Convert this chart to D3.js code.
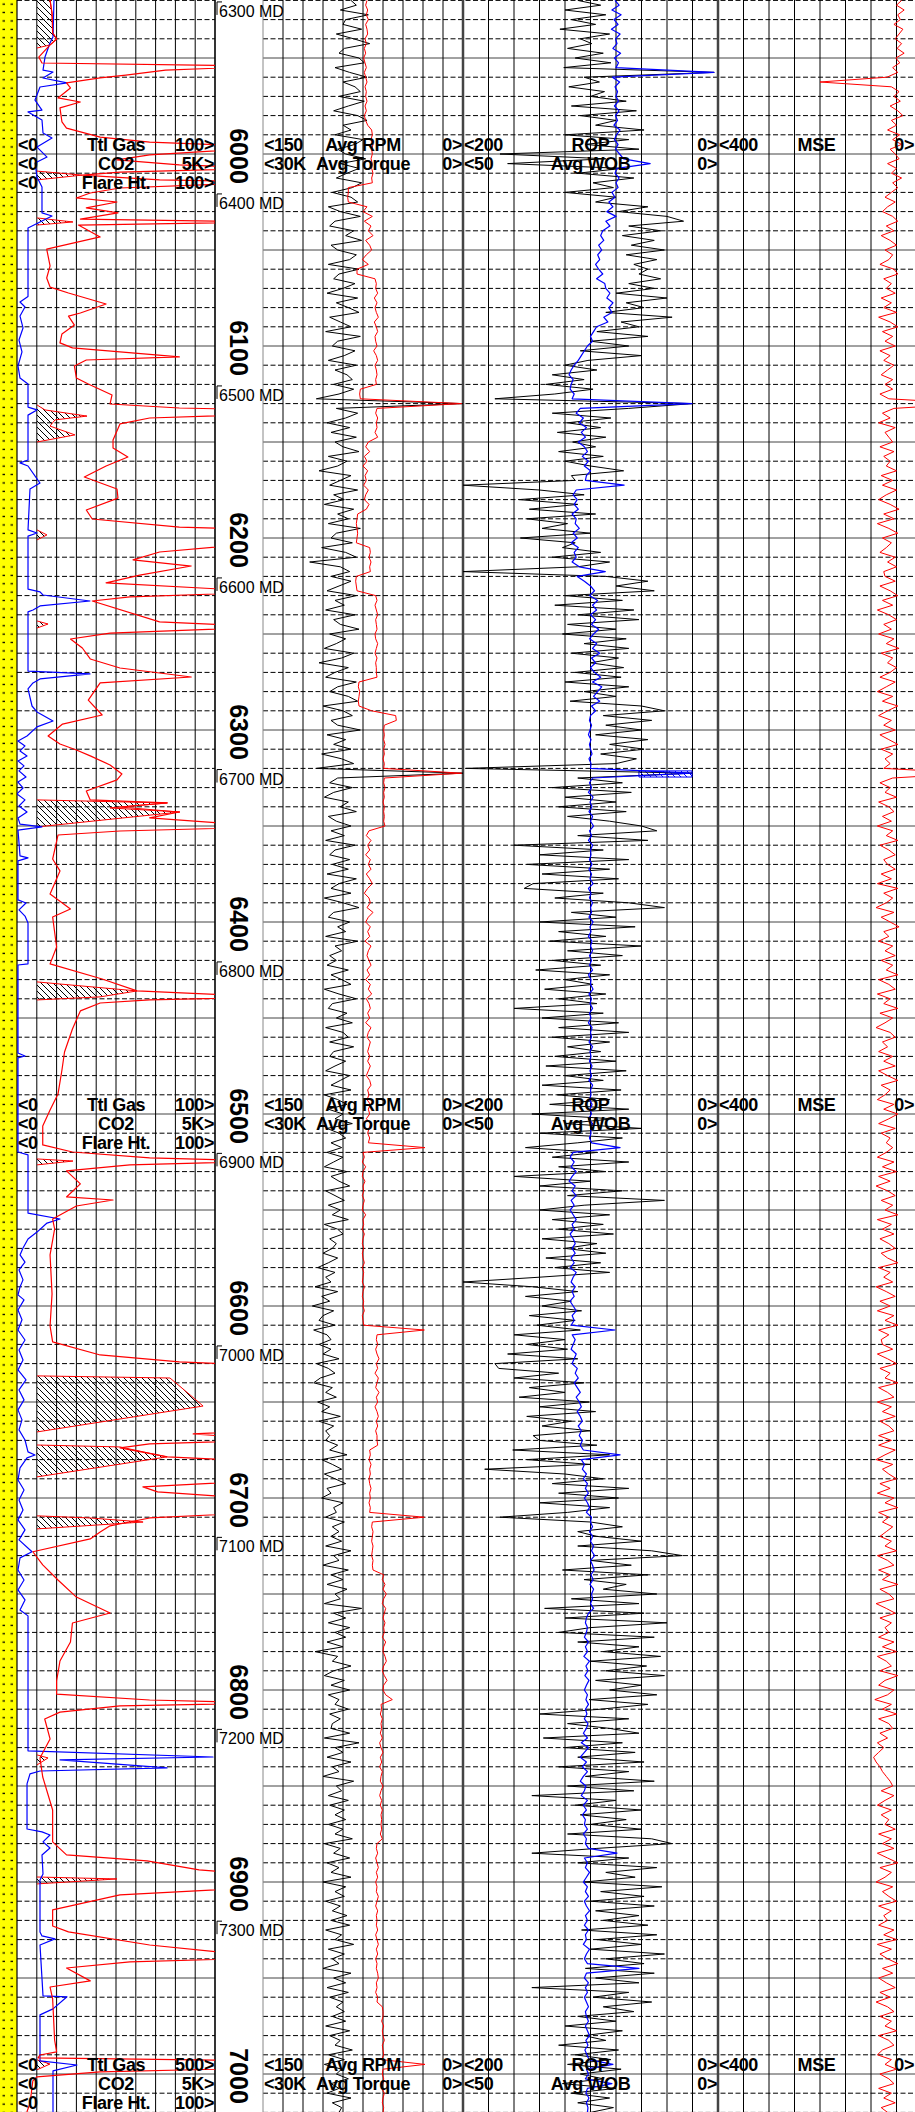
<!DOCTYPE html>
<html>
<head>
<meta charset="utf-8">
<script src="https://cdn.jsdelivr.net/npm/d3@7"></script>
<style>
  html, body { margin: 0; padding: 0; background: #fff; }
  svg { display: block; }
  text { font-family: "Liberation Sans", Arial, sans-serif; }
</style>
</head>
<body>
<div id="chart"></div>
<script>
// Dense drilling curves are sampled every 2.5 ft TVD starting here
const sampleTop = 5920
const sampleStep = 2.5

// Avg RPM (rpm)
const rpm = [
  84,80,92,71,88,90,76,95,82,70,89,93,78,74,96,85,72,90,81,77,
  93,74,86,97,79,72,90,84,96,75,81,94,88,73,92,78,87,95,76,83,
  98,84,79,101,92,77,96,100,82,88,76,99,94,80,85,101,78,93,97,81,
  90,102,79,95,86,78,100,92,84,103,77,94,98,81,89,101,80,96,87,83,
  97,82,93,110,0,95,79,88,102,85,99,80,96,90,78,101,87,94,108,84,
  92,100,79,97,89,104,82,94,86,101,77,95,99,83,106,88,80,115,92,85,
  99,84,93,102,80,96,89,103,81,97,92,78,100,88,95,104,82,91,108,86,
  96,103,80,94,100,86,79,105,90,83,99,94,77,102,88,97,84,106,91,82,
  110,0,94,100,83,97,104,86,92,80,101,95,84,99,89,103,81,96,100,85,
  98,86,102,80,93,99,84,104,90,78,97,101,85,94,88,103,79,96,91,100,
  95,102,86,99,91,84,104,93,80,98,101,87,95,83,103,90,86,100,82,97,
  100,88,96,103,85,92,99,84,104,94,87,101,90,96,83,102,93,88,99,91,
  102,90,97,104,87,99,93,85,103,96,89,101,92,98,86,104,94,90,100,95,
  98,105,94,101,109,96,103,99,111,94,106,100,113,97,105,108,96,112,102,99,
  108,99,105,93,110,101,96,107,112,98,103,95,109,100,106,92,108,97,103,100,
  103,94,100,87,106,98,91,104,96,88,102,99,106,90,97,95,103,89,98,93,
  99,91,103,84,97,93,105,86,99,90,102,87,96,92,104,76,97,88,101,85,
  96,88,102,90,111,94,98,84,97,104,89,99,85,101,93,96,86,100,92,98,
  99,85,104,78,96,90,102,84,98,93,105,82,95,91,101,86,100,89,96,88,
  101,90,96,83,104,92,97,85,102,93,99,84,105,88,96,89,103,92,98,87,
  99,85,103,91,96,82,101,89,98,93,105,84,97,88,102,86,100,90,95,89,
  98,88,103,85,100,92,96,83,101,89,104,91,95,86,99,93,102,84,98,91,
  93
]

// Avg Torque (K ft-lb)
const torque = [
  14.4,14.6,14.3,14.5,14.2,14.6,14.4,14.3,14.7,14.5,14.8,14.6,14.9,14.7,14.5,14.8,14.6,14.4,14.7,14.5,
  14.6,14.4,14.7,14.5,14.8,14.6,14.3,13.7,13.6,13.8,13.5,13.7,13.6,13.8,13.6,13.7,13.5,13.7,13.6,17.2,
  17.2,17.3,17.2,14.4,15.0,13.6,14.8,13.8,14.2,13.5,14.6,14.0,13.7,14.5,15.1,14.2,15.9,15.9,13.2,13.0,
  13.1,12.8,13.3,12.9,13.2,13.0,12.7,13.3,13.0,12.8,13.2,13.1,12.9,13.4,13.0,12.8,13.2,13.0,12.9,13.1,
  13.0,15.4,15.5,15.4,0.2,12.9,13.1,12.8,13.0,12.9,13.2,12.8,14.2,14.6,14.0,14.8,14.4,15.0,14.3,14.7,
  14.5,14.9,14.2,14.6,14.8,14.1,14.5,15.8,15.9,16.0,15.9,15.8,15.9,16.0,14.0,13.9,14.1,13.8,14.0,13.9,
  16.0,16.1,16.0,15.9,13.1,12.9,13.2,13.0,12.8,13.1,13.0,12.9,13.2,13.1,12.8,13.0,13.2,12.9,13.1,13.0,
  13.0,12.9,15.6,15.7,15.5,15.6,15.7,15.6,13.7,10.1,10.0,11.8,11.9,11.8,11.9,11.7,11.9,11.8,12.0,11.8,
  11.9,0.2,11.8,11.9,11.7,11.9,11.8,12.0,11.8,11.9,11.8,11.9,11.7,14.1,14.5,13.8,14.3,14.0,14.6,13.9,
  14.2,13.8,14.5,14.0,13.6,14.3,14.8,14.1,13.9,14.4,13.5,14.2,14.6,13.9,14.3,14.0,14.7,13.8,14.2,14.4,
  14.1,13.8,14.4,14.0,14.6,13.9,14.2,13.7,14.5,14.1,13.9,14.3,14.0,14.6,13.8,14.2,14.4,13.9,14.1,14.3,
  14.0,14.3,13.9,14.2,14.5,14.0,13.8,14.3,14.1,14.4,13.9,14.2,14.0,14.5,13.8,14.1,14.3,14.0,14.2,5.7,
  15.0,14.8,15.1,14.6,15.0,15.1,14.7,15.0,14.9,15.1,14.8,15.0,15.1,14.6,15.0,14.9,15.1,14.8,15.0,15.1,
  14.9,15.1,15.0,14.8,15.1,14.9,15.0,15.1,14.8,15.0,15.1,14.9,15.0,14.8,15.1,15.0,14.9,5.8,12.9,13.0,
  12.8,13.1,12.9,12.6,13.0,12.8,13.2,12.7,12.9,13.1,12.6,13.0,12.8,13.2,12.9,12.7,13.0,12.8,13.1,12.9,
  12.9,12.8,14.0,13.9,14.1,13.8,14.0,13.9,14.1,14.0,13.8,14.0,13.9,14.1,13.9,14.0,5.8,13.6,13.7,13.5,
  13.6,13.7,13.5,13.6,13.7,13.5,13.6,13.5,11.9,12.1,11.7,12.0,11.5,11.9,12.1,11.6,11.8,12.0,11.7,11.9,
  11.8,12.1,11.6,11.9,12.0,11.7,11.5,11.9,12.1,11.8,11.4,11.9,12.0,11.6,10.6,12.3,12.2,12.4,12.1,12.3,
  12.2,12.4,12.1,12.5,12.3,12.0,12.4,12.2,12.5,12.1,12.3,12.4,12.0,12.3,12.5,12.2,12.4,12.1,12.3,12.2,
  12.3,12.2,12.4,12.1,12.9,13.0,12.8,13.1,12.9,12.7,13.0,12.8,13.1,12.9,13.0,12.7,12.9,13.1,12.8,13.0,
  12.9,13.0,12.8,13.1,12.9,12.7,13.0,12.8,13.1,12.9,13.0,12.8,12.7,13.0,12.9,13.1,12.8,12.9,12.1,12.0,
  12.0,12.2,11.9,12.1,12.0,11.8,12.1,12.0,11.9,12.2,5.7,12.0,12.1,11.9,12.0,12.2,11.8,12.0,12.1,11.9,
  12.0
]

// ROP (ft/hr)
const rop = [
  110,92,120,88,115,96,124,85,108,99,118,90,112,84,121,3,105,93,117,89,
  100,72,115,64,108,80,96,58,120,70,104,62,171,88,165,75,110,66,98,82,
  120,80,96,55,78,40,27,70,45,75,50,68,42,72,48,66,55,62,45,70,
  50,80,40,72,58,88,36,76,62,95,55,100,70,108,60,102,120,95,130,105,
  135,98,128,175,20,70,130,84,118,92,126,88,114,96,125,90,120,100,74,115,
  112,200,140,105,156,110,148,96,150,118,138,100,155,112,122,92,130,85,110,200,
  88,55,80,50,120,75,128,66,110,62,118,80,122,72,105,70,115,78,100,74,
  112,76,120,70,105,80,116,60,42,90,52,88,60,96,55,85,58,92,64,80,
  198,20,110,75,130,68,120,80,125,72,118,85,60,48,110,55,160,90,140,70,
  150,85,138,78,145,152,90,128,70,42,115,80,140,65,125,88,132,60,118,75,
  130,92,143,85,120,98,136,88,125,95,160,90,138,78,125,70,130,85,118,92,
  128,80,135,72,120,90,138,76,126,85,132,70,146,82,120,60,140,75,110,151,
  95,130,70,125,88,160,100,140,75,118,42,105,140,85,130,90,125,82,138,95,
  120,88,135,92,128,85,140,200,145,110,151,115,138,107,148,112,142,108,160,120,
  150,118,165,110,175,172,125,160,105,148,120,156,101,140,96,150,115,138,100,145,
  140,95,161,85,150,100,183,120,90,130,70,125,78,140,85,118,171,100,75,110,
  95,60,110,52,28,100,68,122,55,105,72,90,48,115,62,136,58,120,40,100,
  125,50,110,62,90,45,100,56,88,42,96,60,85,48,101,55,92,140,70,118,
  85,62,137,75,120,65,110,58,125,70,104,50,118,66,146,80,112,60,108,72,
  100,60,118,52,36,95,146,70,110,48,88,65,105,44,92,58,100,50,96,62,
  90,55,107,48,95,60,100,42,88,58,104,50,96,62,146,70,98,52,90,66,
  110,80,120,75,105,88,125,78,112,84,118,76,108,90,122,80,115,85,110,82,
  100
]

// Avg WOB (K lb)
const wob = [
  20.2,19.4,20.8,19.0,20.4,19.6,20.9,19.2,20.1,19.8,20.6,19.1,20.3,19.5,20.0,0.8,20.7,19.3,20.2,19.7,
  20.0,19.5,20.3,19.4,20.1,19.7,20.4,19.2,19.9,20.3,19.6,20.1,19.3,18.5,13.3,19.8,20.2,19.4,20.0,19.6,
  20.8,20.2,21.4,20.6,21.8,20.0,22.0,21.2,22.6,23.0,22.4,23.4,22.8,23.6,23.2,24.0,23.4,22.6,23.8,22.2,
  22.0,21.2,21.8,20.6,21.4,20.8,22.4,21.6,23.8,24.4,25.0,24.6,25.6,26.2,26.8,27.4,28.2,28.8,29.2,28.4,
  28.8,29.0,28.2,28.6,5.1,27.0,27.8,26.4,27.2,25.8,26.8,26.0,27.4,26.2,25.6,26.6,25.4,26.2,25.0,25.8,
  26.0,18.4,27.8,28.4,27.6,28.2,27.4,28.6,27.8,28.0,27.2,28.4,27.6,28.8,27.4,28.2,27.8,28.6,27.2,22.1,
  27.6,26.2,25.0,24.2,25.2,23.6,24.6,23.8,25.0,24.0,24.8,23.4,24.4,25.2,23.8,24.6,23.2,24.8,24.0,25.0,
  24.2,23.0,24.6,22.8,23.6,24.4,23.2,24.8,24.0,25.0,25.2,24.8,25.1,25.4,24.9,25.2,25.0,24.7,25.3,24.9,
  25.0,5.1,24.6,25.2,24.8,25.4,24.5,25.1,24.7,25.3,24.6,25.0,24.4,25.2,24.8,25.4,24.6,25.0,24.9,25.2,
  24.7,25.3,24.8,25.1,24.5,25.4,24.9,25.2,24.6,25.0,24.8,25.3,24.5,25.1,24.9,25.4,24.7,25.0,24.6,25.2,
  24.8,25.2,24.6,25.4,24.9,25.0,24.5,25.3,24.8,25.1,24.6,25.2,24.9,25.4,24.7,25.0,24.8,25.3,24.6,25.1,
  24.9,25.2,24.7,25.1,24.8,25.3,24.6,25.0,24.9,25.2,24.7,25.1,24.8,25.4,24.6,25.0,24.9,25.2,24.8,19.2,
  28.4,29.0,28.2,28.8,27.8,28.6,29.2,28.0,28.6,27.8,28.8,28.2,29.0,28.4,27.8,28.6,28.2,29.0,28.4,28.0,
  28.6,28.0,28.8,28.2,29.0,27.8,28.4,28.8,28.0,28.6,28.2,29.0,28.4,27.8,28.6,28.2,28.8,20.2,28.6,28.0,
  28.4,28.8,27.8,28.2,28.6,27.6,28.0,27.4,28.2,27.6,27.0,27.8,27.2,26.8,27.6,27.0,26.6,27.4,26.8,27.2,
  26.6,27.0,26.4,19.2,26.8,26.2,26.6,25.8,26.4,25.6,26.0,25.4,26.2,25.6,25.2,25.8,24.8,25.0,24.6,25.2,
  24.6,25.0,24.4,24.8,24.2,25.0,24.6,24.3,24.9,24.5,25.1,24.4,24.8,24.6,25.0,24.4,25.4,25.8,26.0,25.6,
  25.8,26.2,25.4,26.0,25.6,26.3,25.2,25.9,25.5,26.1,25.3,25.8,26.2,25.6,25.9,25.4,26.0,25.7,26.2,25.5,
  25.8,26.4,25.6,26.8,25.4,26.2,27.0,25.8,26.6,25.6,26.4,27.0,25.9,26.2,26.8,25.6,26.4,25.8,26.6,26.0,
  26.2,25.6,26.4,25.8,26.0,25.4,19.8,26.2,25.6,26.0,25.2,25.8,26.4,25.6,26.0,25.4,26.2,25.8,25.2,26.0,
  25.6,26.2,25.4,26.0,25.8,26.4,25.2,25.8,26.2,25.6,15.5,25.8,26.2,25.4,26.0,25.6,26.2,25.8,25.4,26.0,
  25.8,25.4,26.0,25.6,25.2,25.9,25.5,26.1,25.7,25.3,20.6,25.8,25.4,26.0,20.8,25.6,25.9,25.3,25.8,25.5,
  25.6
]

// MSE (ksi)
const mse = [
  112,120,108,118,114,124,110,116,122,112,119,108,121,115,126,118,135,240,128,116,
  124,114,130,118,110,128,120,134,115,126,112,130,122,116,134,120,128,112,126,118,
  128,138,122,134,142,126,118,136,124,144,130,120,138,126,132,146,124,118,140,128,
  136,122,144,128,140,120,148,130,118,142,126,138,122,146,130,140,124,134,144,126,
  138,126,146,132,0,124,142,130,148,122,138,132,126,146,124,140,130,136,120,144,
  126,142,120,136,148,130,116,140,124,150,132,118,142,128,136,146,122,134,120,140,
  138,122,146,130,118,142,126,150,132,120,140,128,148,124,136,116,144,126,134,120,
  130,146,122,136,150,126,142,118,134,148,128,140,122,146,132,118,144,126,138,130,
  140,0,126,146,130,138,120,148,132,124,142,128,150,126,136,118,146,132,122,140,
  134,122,144,128,150,118,140,126,136,152,124,144,130,116,140,132,148,126,138,122,
  144,126,136,118,148,132,122,150,130,140,118,146,126,138,152,130,122,142,134,148,
  126,140,122,148,134,118,144,130,138,150,124,140,118,132,148,122,144,130,136,126,
  136,150,124,142,120,148,130,152,134,122,144,126,138,118,150,128,142,124,146,132,
  122,144,134,118,148,130,140,126,152,136,122,146,130,150,124,138,118,148,132,144,
  142,126,150,134,120,146,130,138,118,148,134,124,150,128,142,122,146,132,124,148,
  128,148,122,138,152,126,142,132,120,146,130,150,124,138,118,148,132,142,126,136,
  146,128,138,120,150,134,124,148,130,142,118,146,132,124,152,136,122,146,128,138,
  132,148,124,142,120,150,136,128,146,118,138,148,124,134,154,128,142,120,148,132,
  126,146,134,150,140,148,156,152,146,142,136,130,126,144,124,138,150,128,144,132,
  138,122,148,128,142,124,150,134,118,146,128,138,152,126,142,132,120,148,128,140,
  134,148,124,140,120,150,128,146,134,118,142,126,148,136,122,146,130,152,134,124,
  146,128,138,120,148,132,124,142,150,128,138,120,146,132,124,148,128,140,122,144,
  134
]

// Total gas (units) as [TVD, value]
const totalGas = [
  [5919.8,16.7],[5926.6,17.7],[5937.0,18],[5940.1,20],[5943.2,16.7],[5949.5,11],[5952.6,12.6],[5954.2,130],
  [5956.3,75],[5958.9,55],[5960.4,42],[5963.0,25],[5965.6,27],[5970.8,20.7],[5972.9,32],[5976.0,21.7],
  [5983.3,22.7],[5986.5,25],[5991.2,42],[5993.8,67],[5996.4,130],[6000.5,67],[6003.1,50.5],[6005.7,82],
  [6007.3,130],[6009.4,52],[6011.0,33],[6013.5,72],[6014.6,130],[6017.7,52],[6020.3,37],[6022.9,30],
  [6025.0,50.5],[6028.1,35],[6030.7,51],[6033.9,32],[6035.4,130],[6037.0,31],[6043.2,42],[6049.5,15],
  [6058.3,16.7],[6064.6,15],[6069.3,16.7],[6072.4,26],[6078.1,45],[6082.8,32],[6084.4,26],[6089.1,29],
  [6093.7,22.7],[6098.4,21.7],[6101.0,28],[6105.7,82],[6107.3,35],[6110.4,29],[6116.7,30],[6119.8,36],
  [6125.5,48],[6130.2,47],[6132.3,82],[6133.3,130],[6135.4,130],[6137.5,67],[6140.6,52],[6149.0,48.5],
  [6153.1,48.5],[6157.8,56],[6162.5,45],[6168.2,34],[6174.5,50.5],[6179.2,51],[6185.4,35],[6190.1,38],
  [6194.3,82],[6195.8,130],[6202.1,130],[6207.3,72],[6211.4,58.6],[6214.6,88],[6219.3,62],[6223.4,45],
  [6228.1,130],[6230.7,57],[6232.8,38],[6243.7,72],[6246.3,130],[6249.5,47],[6252.6,27],[6257.3,33],
  [6263.0,37],[6267.7,52],[6272.4,88],[6275.5,42],[6284.4,36],[6292.2,43],[6296.9,23],[6303.1,15.7],
  [6307.3,21.7],[6310.4,30],[6313.5,37],[6318.2,47],[6322.9,53],[6326.0,50.5],[6331.8,35],[6336.4,37],
  [6338.0,76],[6340.1,52],[6342.7,82],[6345.8,67],[6350.5,130],[6352.6,52],[6354.7,20.7],[6367.2,18],
  [6373.4,21.7],[6385.4,16.7],[6393.2,27],[6397.4,18],[6413.0,20],[6421.8,16.7],[6429.7,43],[6435.9,60.6],
  [6439.0,130],[6440.6,67],[6442.2,42],[6446.3,32],[6455.7,28],[6467.7,24],[6477.1,22.7],[6489.6,20.7],
  [6497.9,16.7],[6506.2,13],[6516.1,13],[6519.8,28],[6522.9,67],[6524.5,130],[6526.5,57],[6529.6,25],
  [6536.4,32],[6543.2,25],[6544.8,48.5],[6547.9,30],[6554.7,18],[6559.9,19],[6573.4,16.7],[6593.7,17.7],
  [6610.4,16.7],[6618.7,18],[6625.5,42],[6629.1,82],[6631.2,130],[6664.6,130],[6666.6,89],[6669.8,130],
  [6671.8,67],[6673.9,52],[6678.6,76],[6681.2,130],[6690.6,130],[6694.2,63.6],[6696.8,71],[6701.0,130],
  [6707.2,130],[6710.4,67],[6714.5,47],[6717.7,42],[6721.3,37],[6728.0,8],[6734.8,13],[6742.7,20.7],
  [6751.6,30],[6759.9,47],[6765.1,28],[6775.0,27],[6784.9,21.7],[6795.3,20],[6802.1,20],[6805.2,67],
  [6806.8,130],[6808.3,52],[6811.5,21.7],[6815.1,14],[6825.5,16.7],[6835.4,11.6],[6845.3,13],[6862.5,18],
  [6879.1,18],[6885.9,25],[6889.0,65.7],[6893.7,92],[6896.9,130],[6902.5,130],[6906.7,52],[6914.5,18],
  [6922.9,18],[6926.0,26],[6932.8,67],[6939.5,130],[6941.6,57],[6944.8,25],[6951.5,37],[6954.7,16.7],
  [6960.9,18],[6982.3,19],[6988.5,20],[6990.1,11.6],[6991.6,10.6],[6993.2,130],[6996.8,130],[6998.9,42],
  [7001.5,10],[7003.6,8],[7015.1,6.6],[7019.8,5]
]

// CO2 (ppm) as [TVD, value]
const co2 = [
  [5919.8,934],[5939.1,909],[5942.2,833],[5949.5,707],[5956.3,657],[5957.3,909],[5960.4,657],[5963.0,1263],
  [5965.1,581],[5971.9,455],[5977.1,631],[5978.1,278],[5982.3,631],[5989.1,657],[5991.7,884],[5996.4,505],
  [6001.6,758],[6004.7,455],[6012.0,505],[6017.2,631],[6024.0,631],[6030.7,631],[6032.3,884],[6038.5,278],
  [6074.2,278],[6077.1,76],[6079.7,202],[6084.4,76],[6090.6,152],[6096.9,50],[6103.1,126],[6110.4,25],
  [6116.7,76],[6119.8,278],[6131.8,278],[6133.3,505],[6136.0,278],[6159.4,278],[6160.9,76],[6162.5,278],
  [6171.4,581],[6174.5,328],[6195.8,278],[6197.4,505],[6199.0,278],[6226.6,278],[6228.1,581],[6229.7,657],
  [6232.8,1843],[6235.4,581],[6237.5,404],[6238.5,278],[6269.3,278],[6270.8,1843],[6273.4,581],[6275.5,404],
  [6278.6,278],[6287.5,379],[6290.6,505],[6295.3,909],[6298.4,505],[6303.1,253],[6305.7,25],[6308.3,202],
  [6310.9,76],[6313.5,253],[6316.1,25],[6318.7,177],[6321.3,50],[6324.5,227],[6327.1,25],[6330.2,152],
  [6333.3,0],[6336.4,202],[6339.6,50],[6342.7,253],[6345.8,25],[6349.0,76],[6350.5,631],[6352.1,25],
  [6365.6,76],[6366.6,278],[6368.2,25],[6388.5,25],[6390.1,227],[6393.7,50],[6396.9,202],[6400.5,278],
  [6421.8,278],[6422.4,25],[6468.2,25],[6469.8,202],[6470.8,25],[6497.9,25],[6519.8,25],[6521.3,278],
  [6551.6,278],[6554.7,1086],[6556.8,758],[6561.5,505],[6565.1,278],[6569.8,152],[6573.4,76],[6577.1,202],
  [6581.2,50],[6586.4,152],[6590.1,76],[6594.2,25],[6596.8,177],[6602.1,25],[6607.2,126],[6612.5,25],
  [6617.7,202],[6622.9,50],[6628.1,152],[6633.3,25],[6638.5,227],[6643.7,50],[6648.9,177],[6654.1,25],
  [6659.3,126],[6664.5,50],[6669.8,202],[6676.0,278],[6677.6,455],[6679.1,253],[6684.3,76],[6690.6,25],
  [6695.8,177],[6701.0,50],[6706.2,152],[6711.4,25],[6716.6,202],[6721.8,50],[6728.0,379],[6731.2,76],
  [6737.5,25],[6742.7,177],[6747.9,25],[6753.1,202],[6758.3,76],[6761.4,278],[6831.7,278],[6834.9,4950],
  [6836.4,1086],[6840.6,3788],[6842.2,581],[6843.7,328],[6848.9,253],[6872.4,253],[6873.9,631],[6875.5,833],
  [6879.1,657],[6882.3,833],[6885.9,631],[6895.8,657],[6898.9,581],[6926.0,581],[6928.1,631],[6929.6,960],
  [6932.8,581],[6959.3,657],[6959.8,1263],[6966.1,909],[6969.2,581],[6993.2,581],[6995.3,1515],[6998.4,909],
  [7019.8,909]
]

// Flare height (%) events, each as [TVD, value]
const flareEvents = [
  [[5919.8,7.3],[5926.6,8.4],[5937.0,9],[5940.1,11.2],[5943.2,7.3],[5944.8,0]],
  [[6008.9,0],[6011.0,25.3],[6013.5,0]],
  [[6033.3,0],[6035.4,20.2],[6037.0,0]],
  [[6130.7,0],[6133.3,4.5],[6136.5,28.1],[6138.5,10.1],[6141.7,7.3],[6146.3,21.3],[6150.0,0]],
  [[6195.8,0],[6198.4,5.6],[6201.0,0]],
  [[6243.2,0],[6244.8,6.2],[6246.9,0]],
  [[6336.4,0],[6338.0,73],[6340.6,41],[6342.7,80.3],[6350.5,0]],
  [[6431.2,0],[6432.3,12.9],[6435.9,56.2],[6439.0,35.4],[6440.6,0]],
  [[6523.4,0],[6524.5,20.2],[6526.5,0]],
  [[6636.4,0],[6637.5,74.7],[6646.3,86],[6652.1,93.3],[6665.6,0]],
  [[6672.4,0],[6673.4,46.6],[6678.6,73],[6689.0,0]],
  [[6709.3,0],[6710.4,29.8],[6712.5,59.6],[6716.1,0]],
  [[6833.8,0],[6835.4,6.2],[6839.0,0]],
  [[6897.4,0],[6898.4,44.9],[6901.0,0]],
  [[6992.6,0],[6994.8,7.3],[6997.8,0]]
]

// WOB flag interval [TVD top, TVD bottom] and its WOB bounds
const wobFlagDepths = [6321.3, 6324.5]
const wobFlagValues = [15.5, 5.1]

// Depth labels
const tvdLabels = [6000, 6100, 6200, 6300, 6400, 6500, 6600, 6700, 6800, 6900, 7000]
const mdLabels = [6300, 6400, 6500, 6600, 6700, 6800, 6900, 7000, 7100, 7200, 7300]
const mdAtTvd = [5920.8, 6020.8, 6120.8, 6220.8, 6320.6, 6420.8, 6520.5, 6620.8, 6720.5, 6820.5, 6920.4]

// Repeated curve headers
const headerTvd = [5995, 6495, 6995]
const gasMaxLabels = ['100>', '100>', '500>']

// Layout
const w = 915
const h = 2112
const t1 = [17, 215]
const td = [215, 263]
const t2 = [263, 463]
const t3 = [463, 718]
const t4 = [718, 973]

const svg = d3.select('#chart').append('svg')
  .attr('width', w)
  .attr('height', h)

const y = d3.scaleLinear().domain([6000, 7000]).range([154, 2074])

const xGas = d3.scaleLinear().domain([0, 100]).range(t1)
const xCo2 = d3.scaleLinear().domain([0, 5000]).range(t1)
const xFlare = d3.scaleLinear().domain([0, 100]).range([37, t1[1]])
const xRpm = d3.scaleLinear().domain([150, 0]).range(t2)
const xTorque = d3.scaleLinear().domain([30, 0]).range(t2)
const xRop = d3.scaleLinear().domain([200, 0]).range(t3)
const xWob = d3.scaleLinear().domain([50, 0]).range(t3)
const xMse = d3.scaleLinear().domain([400, 0]).range(t4)

const sampled = arr => arr.map((v, i) => [sampleTop + i * sampleStep, v])

// Patterns and clips
const defs = svg.append('defs')

const sand = defs.append('pattern')
  .attr('id', 'sand')
  .attr('patternUnits', 'userSpaceOnUse')
  .attr('width', 17)
  .attr('height', 8.4)
sand.append('rect').attr('width', 17).attr('height', 8.4).attr('fill', '#ffff00')
sand.append('rect').attr('x', 2.5).attr('y', 3.5).attr('width', 2.5).attr('height', 1.3).attr('fill', '#000')
sand.append('rect').attr('x', 10.5).attr('y', 3.5).attr('width', 2.5).attr('height', 1.3).attr('fill', '#000')

function hatchPattern(id, color) {
  defs.append('pattern')
    .attr('id', id)
    .attr('patternUnits', 'userSpaceOnUse')
    .attr('width', 6)
    .attr('height', 6)
    .append('path')
    .attr('d', 'M-1,-1 L7,7 M-1,5 L1,7 M5,-1 L7,1')
    .attr('stroke', color)
    .attr('stroke-width', 1)
}
hatchPattern('hatch', '#000')
hatchPattern('hatchBlue', '#0000ff')

function clip(id, range) {
  defs.append('clipPath').attr('id', id)
    .append('rect')
    .attr('x', range[0])
    .attr('y', 0)
    .attr('width', range[1] - range[0])
    .attr('height', h)
}
clip('c1', t1)
clip('c2', t2)
clip('c3', t3)
clip('c4', t4)

// Lithology column
svg.append('rect')
  .attr('x', 0)
  .attr('y', 0)
  .attr('width', t1[0])
  .attr('height', h)
  .attr('fill', 'url(#sand)')

// Horizontal grid (every 10 ft, solid every 50 ft)
const gridDepths = d3.range(5920, 7021, 10)
const grid = svg.append('g')
;[t1, [t2[0], w]].forEach(r => {
  grid.selectAll(null)
    .data(gridDepths)
    .enter()
    .append('line')
    .attr('x1', r[0])
    .attr('x2', r[1])
    .attr('y1', d => y(d))
    .attr('y2', d => y(d))
    .attr('stroke', d => d % 50 === 0 ? '#444' : '#000')
    .attr('stroke-width', 1)
    .attr('stroke-dasharray', d => d % 50 === 0 ? null : '5,2.5')
})

// Vertical grid (10 divisions per track)
;[t1, t2, t3, t4].forEach(r => {
  const gx = d3.scaleLinear().domain([0, 10]).range(r)
  grid.selectAll(null)
    .data(d3.range(1, 10))
    .enter()
    .append('line')
    .attr('x1', d => gx(d))
    .attr('x2', d => gx(d))
    .attr('y1', 0)
    .attr('y2', h)
    .attr('stroke', '#000')
    .attr('stroke-width', 1)
})

// Depth track background and borders
svg.append('rect')
  .attr('x', td[0])
  .attr('y', 0)
  .attr('width', td[1] - td[0])
  .attr('height', h)
  .attr('fill', '#fff')

const borders = [
  { x: t1[0], c: '#000', s: 1.2 },
  { x: td[0], c: '#000', s: 1.6 },
  { x: td[1], c: '#888', s: 1 },
  { x: t2[1], c: '#444', s: 2.5 },
  { x: t3[1], c: '#444', s: 2.5 }
]
svg.selectAll(null)
  .data(borders)
  .enter()
  .append('line')
  .attr('x1', d => d.x)
  .attr('x2', d => d.x)
  .attr('y1', 0)
  .attr('y2', h)
  .attr('stroke', d => d.c)
  .attr('stroke-width', d => d.s)

// Flare hatched areas
const flareArea = d3.area()
  .x0(xFlare(0))
  .x1(d => xFlare(d[1]))
  .y(d => y(d[0]))
const flareEdge = d3.line()
  .x(d => xFlare(d[1]))
  .y(d => y(d[0]))

flareEvents.forEach(ev => {
  svg.append('path')
    .datum(ev)
    .attr('clip-path', 'url(#c1)')
    .attr('fill', 'url(#hatch)')
    .attr('d', flareArea)
  svg.append('path')
    .datum(ev)
    .attr('clip-path', 'url(#c1)')
    .attr('fill', 'none')
    .attr('stroke', '#f00')
    .attr('stroke-width', 1)
    .attr('d', flareEdge)
})

// WOB flag
svg.append('path')
  .datum(wobFlagDepths)
  .attr('fill', 'url(#hatchBlue)')
  .attr('stroke', '#0000ff')
  .attr('stroke-width', 1)
  .attr('d', d3.area()
    .x0(xWob(wobFlagValues[0]))
    .x1(xWob(wobFlagValues[1]))
    .y(d => y(d)))

// Curves
function drawCurve(data, xs, clipId, color, width) {
  svg.append('path')
    .datum(data)
    .attr('clip-path', `url(#${clipId})`)
    .attr('fill', 'none')
    .attr('stroke', color)
    .attr('stroke-width', width)
    .attr('stroke-linejoin', 'round')
    .attr('d', d3.line().x(d => xs(d[1])).y(d => y(d[0])))
}

drawCurve(co2, xCo2, 'c1', '#0000ff', 1.2)
drawCurve(totalGas, xGas, 'c1', '#ff0000', 1.2)
drawCurve(sampled(rpm), xRpm, 'c2', '#000', 1)
drawCurve(sampled(torque), xTorque, 'c2', '#ff0000', 1)
drawCurve(sampled(rop), xRop, 'c3', '#000', 1)
drawCurve(sampled(wob), xWob, 'c3', '#0000ff', 1.2)
drawCurve(sampled(mse), xMse, 'c4', '#ff0000', 1)

// Headers
const rowH = 10
function headerRow(top, range, left, mid, right, visibleRight) {
  const g = svg.append('g')
    .attr('font-size', 18)
    .attr('font-weight', 'bold')
    .attr('letter-spacing', -0.4)
    .attr('fill', '#000')
  const yy = y(top) + 6.5
  const r = visibleRight || range[1]
  g.append('text').attr('x', range[0] + 1).attr('y', yy).attr('text-anchor', 'start').text(left)
  g.append('text').attr('x', (range[0] + r) / 2).attr('y', yy).attr('text-anchor', 'middle').text(mid)
  g.append('text').attr('x', r - 1).attr('y', yy).attr('text-anchor', 'end').text(right)
}

headerTvd.forEach((d, i) => {
  headerRow(d, t1, '<0', 'Ttl Gas', gasMaxLabels[i])
  headerRow(d + rowH, t1, '<0', 'CO2', '5K>')
  headerRow(d + 2 * rowH, t1, '<0', 'Flare Ht.', '100>')
  headerRow(d, t2, '<150', 'Avg RPM', '0>')
  headerRow(d + rowH, t2, '<30K', 'Avg Torque', '0>')
  headerRow(d, t3, '<200', 'ROP', '0>')
  headerRow(d + rowH, t3, '<50', 'Avg WOB', '0>')
  headerRow(d, t4, '<400', 'MSE', '0>', w)
})

// TVD labels (rotated)
svg.selectAll(null)
  .data(tvdLabels)
  .enter()
  .append('text')
  .attr('transform', d => `translate(${(td[0] + td[1]) / 2},${y(d) + 2}) rotate(90)`)
  .attr('text-anchor', 'middle')
  .attr('dominant-baseline', 'central')
  .attr('font-size', 25)
  .attr('font-weight', 'bold')
  .text(d => d)

// MD labels with small bracket ticks
const md = svg.append('g')
mdLabels.forEach((d, i) => {
  const yy = y(mdAtTvd[i])
  md.append('path')
    .attr('d', `M${td[0] + 2},${yy + 13} V${yy} H${td[0] + 7}`)
    .attr('fill', 'none')
    .attr('stroke', '#000')
    .attr('stroke-width', 1)
  md.append('text')
    .attr('x', td[0] + 4)
    .attr('y', yy + 15)
    .attr('font-size', 16)
    .text(`${d} MD`)
})
</script>
</body>
</html>
